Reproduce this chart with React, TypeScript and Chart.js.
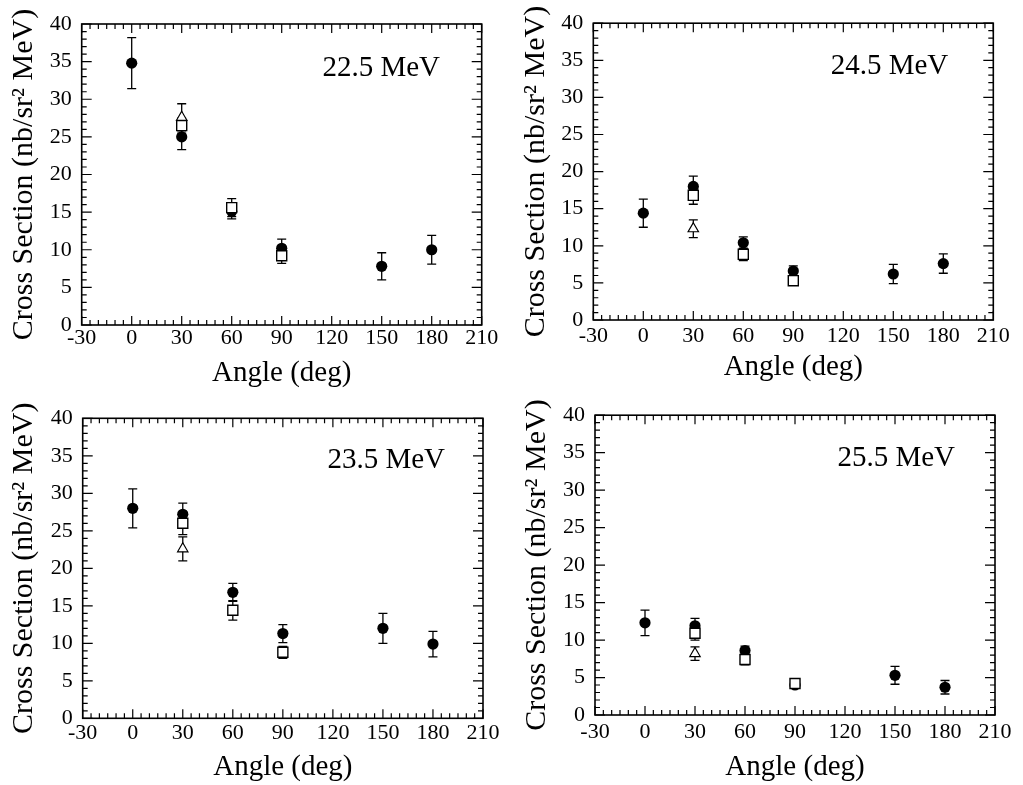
import React, { useEffect, useRef } from 'react';
import { Chart, registerables } from 'chart.js';

Chart.register(...registerables);

// ---------- data ----------
const panelLabels = ['22.5 MeV', '24.5 MeV', '23.5 MeV', '25.5 MeV'];
const xTickValues = [-30, 0, 30, 60, 90, 120, 150, 180, 210];
const yTickValues = [0, 5, 10, 15, 20, 25, 30, 35, 40];
const xAxisTitle = 'Angle (deg)';
const yAxisTitle = 'Cross Section (nb/sr² MeV)';

// 22.5 MeV
const circAngles225 = [0, 30, 60, 90, 150, 180];
const circVals225 = [34.8, 25.0, 15.1, 10.2, 7.8, 10.0];
const circErrs225 = [3.4, 1.7, 1.0, 1.2, 1.8, 1.9];
const sqAngles225 = [30, 60, 90];
const sqVals225 = [26.5, 15.6, 9.2];
const sqErrs225 = [1.0, 1.2, 1.0];
const triAngles225 = [30];
const triVals225 = [27.6];
const triErrs225 = [1.8];

// 24.5 MeV
const circAngles245 = [0, 30, 60, 90, 150, 180];
const circVals245 = [14.4, 18.0, 10.4, 6.6, 6.2, 7.6];
const circErrs245 = [1.9, 1.4, 0.8, 0.7, 1.3, 1.3];
const sqAngles245 = [30, 60, 90];
const sqVals245 = [16.8, 8.85, 5.3];
const sqErrs245 = [1.2, 0.85, 0.6];
const triAngles245 = [30];
const triVals245 = [12.3];
const triErrs245 = [1.2];

// 23.5 MeV
const circAngles235 = [0, 30, 60, 90, 150, 180];
const circVals235 = [28.0, 27.2, 16.8, 11.3, 12.0, 9.9];
const circErrs235 = [2.6, 1.5, 1.2, 1.2, 2.0, 1.7];
const sqAngles235 = [30, 60, 90];
const sqVals235 = [26.0, 14.4, 8.8];
const sqErrs235 = [1.5, 1.3, 0.8];
const triAngles235 = [30];
const triVals235 = [22.6];
const triErrs235 = [1.6];

// 25.5 MeV
const circAngles255 = [0, 30, 60, 90, 150, 180];
const circVals255 = [12.3, 11.9, 8.6, 4.0, 5.3, 3.7];
const circErrs255 = [1.7, 1.0, 0.6, 0.4, 1.2, 0.9];
const sqAngles255 = [30, 60, 90];
const sqVals255 = [10.9, 7.4, 4.2];
const sqErrs255 = [0.9, 0.7, 0.4];
const triAngles255 = [30];
const triVals255 = [8.2];
const triErrs255 = [0.9];

// ---------- layout (styling only) ----------
const FONT = '"Liberation Serif", "Times New Roman", "DejaVu Serif", serif';

type Layout = {
  left: number; top: number; w: number; h: number;
  aL: number; aR: number; aT: number; aB: number;
  xTitleMid: number; yTitleMid: number; xTickPad: number; yTickPad: number;
  lblRight: number; lblMid: number;
};

const layouts: Layout[] = [
  { left: 0, top: 0, w: 511, h: 392, aL: 81.7, aR: 481.7, aT: 24, aB: 325, xTitleMid: 373, yTitleMid: 24, xTickPad: 0, yTickPad: 10, lblRight: 41.7, lblMid: 44 },
  { left: 511, top: 0, w: 512, h: 392, aL: 82.3, aR: 482.3, aT: 20, aB: 320, xTitleMid: 367, yTitleMid: 25, xTickPad: 3, yTickPad: 10, lblRight: 45, lblMid: 43 },
  { left: 0, top: 392, w: 511, h: 393, aL: 82.7, aR: 483, aT: 26.3, aB: 326.3, xTitleMid: 376, yTitleMid: 24, xTickPad: 2, yTickPad: 10, lblRight: 38, lblMid: 42 },
  { left: 511, top: 392, w: 512, h: 393, aL: 84, aR: 484, aT: 23, aB: 323, xTitleMid: 375, yTitleMid: 26, xTickPad: 4, yTickPad: 10, lblRight: 40, lblMid: 43 },
];

const panelData = [
  { c: [circAngles225, circVals225, circErrs225], s: [sqAngles225, sqVals225, sqErrs225], t: [triAngles225, triVals225, triErrs225] },
  { c: [circAngles245, circVals245, circErrs245], s: [sqAngles245, sqVals245, sqErrs245], t: [triAngles245, triVals245, triErrs245] },
  { c: [circAngles235, circVals235, circErrs235], s: [sqAngles235, sqVals235, sqErrs235], t: [triAngles235, triVals235, triErrs235] },
  { c: [circAngles255, circVals255, circErrs255], s: [sqAngles255, sqVals255, sqErrs255], t: [triAngles255, triVals255, triErrs255] },
];

// ---------- plugins ----------
const errorBarPlugin = {
  id: 'errorBars',
  beforeDatasetsDraw(chart: any) {
    const { ctx } = chart;
    const x = chart.scales.x;
    const y = chart.scales.y;
    ctx.save();
    ctx.strokeStyle = '#000';
    ctx.lineWidth = 1.3;
    chart.data.datasets.forEach((ds: any) => {
      const errs: number[] = ds.errors;
      if (!errs) return;
      ds.data.forEach((p: any, i: number) => {
        const px = x.getPixelForValue(p.x);
        const top = y.getPixelForValue(p.y + errs[i]);
        const bot = y.getPixelForValue(p.y - errs[i]);
        ctx.beginPath();
        ctx.moveTo(px, top);
        ctx.lineTo(px, bot);
        ctx.moveTo(px - 4.5, top);
        ctx.lineTo(px + 4.5, top);
        ctx.moveTo(px - 4.5, bot);
        ctx.lineTo(px + 4.5, bot);
        ctx.stroke();
      });
    });
    ctx.restore();
  },
};

const framePlugin = {
  id: 'frameTicks',
  afterDraw(chart: any) {
    const { ctx, chartArea: a } = chart;
    const x = chart.scales.x;
    const y = chart.scales.y;
    ctx.save();
    ctx.strokeStyle = '#000';
    ctx.lineWidth = 1.6;
    ctx.strokeRect(a.left, a.top, a.right - a.left, a.bottom - a.top);
    ctx.lineWidth = 1.2;
    ctx.beginPath();
    for (let v = -30; v <= 210; v += 5) {
      const px = x.getPixelForValue(v);
      const len = v % 30 === 0 ? 9 : 5;
      ctx.moveTo(px, a.bottom);
      ctx.lineTo(px, a.bottom - len);
      ctx.moveTo(px, a.top);
      ctx.lineTo(px, a.top + len);
    }
    for (let v = 0; v <= 40; v += 1) {
      const py = y.getPixelForValue(v);
      const len = v % 5 === 0 ? 10 : 5;
      ctx.moveTo(a.left, py);
      ctx.lineTo(a.left + len, py);
      ctx.moveTo(a.right, py);
      ctx.lineTo(a.right - len, py);
    }
    ctx.stroke();
    ctx.restore();
  },
};

const energyLabelPlugin = {
  id: 'energyLabel',
  afterDraw(chart: any, _args: any, opts: any) {
    const { ctx, chartArea: a } = chart;
    ctx.save();
    ctx.fillStyle = '#000';
    ctx.font = `29px ${FONT}`;
    ctx.textAlign = 'right';
    ctx.textBaseline = 'middle';
    ctx.fillText(opts.text, a.right - opts.right, a.top + opts.mid);
    ctx.restore();
  },
};

function mk(arr: number[][]) {
  const [xs, ys] = arr;
  return xs.map((xv, i) => ({ x: xv, y: ys[i] }));
}

function Panel({ idx }: { idx: number }) {
  const ref = useRef<HTMLCanvasElement>(null);
  const L = layouts[idx];
  useEffect(() => {
    const d = panelData[idx];
    const chart = new Chart(ref.current as HTMLCanvasElement, {
      type: 'scatter',
      data: {
        datasets: [
          {
            label: 'open triangle',
            data: mk(d.t),
            errors: d.t[2],
            pointStyle: 'triangle',
            pointRadius: 6,
            backgroundColor: '#fff',
            borderColor: '#000',
            borderWidth: 1.2,
            order: 1,
          } as any,
          {
            label: 'open square',
            data: mk(d.s),
            errors: d.s[2],
            pointStyle: 'rect',
            pointRadius: 7.1,
            backgroundColor: '#fff',
            borderColor: '#000',
            borderWidth: 1.4,
            order: 2,
          } as any,
          {
            label: 'filled circle',
            data: mk(d.c),
            errors: d.c[2],
            pointStyle: 'circle',
            pointRadius: 5.6,
            backgroundColor: '#000',
            borderColor: '#000',
            borderWidth: 0,
            order: 3,
          } as any,
        ],
      },
      options: {
        animation: false,
        responsive: false,
        events: [],
        layout: { padding: { left: 0, top: L.aT, right: L.w - L.aR, bottom: 0 } },
        plugins: {
          legend: { display: false },
          tooltip: { enabled: false },
          energyLabel: { text: panelLabels[idx], right: L.lblRight, mid: L.lblMid },
        } as any,
        scales: {
          x: {
            type: 'linear',
            min: -30,
            max: 210,
            afterBuildTicks: (s: any) => {
              s.ticks = xTickValues.map((v) => ({ value: v }));
            },
            afterFit: (s: any) => {
              s.height = L.h - L.aB;
            },
            ticks: {
              color: '#000',
              font: { family: FONT, size: 22 },
              padding: L.xTickPad,
              maxRotation: 0,
              autoSkip: false,
            },
            grid: { display: false, drawTicks: false },
            border: { display: false },
            title: {
              display: true,
              text: xAxisTitle,
              color: '#000',
              font: { family: FONT, size: 29 },
              padding: { top: 0, bottom: Math.max(0, L.h - 17.4 - L.xTitleMid) },
            },
          },
          y: {
            type: 'linear',
            min: 0,
            max: 40,
            afterBuildTicks: (s: any) => {
              s.ticks = yTickValues.map((v) => ({ value: v }));
            },
            afterFit: (s: any) => {
              s.width = L.aL;
            },
            ticks: {
              color: '#000',
              font: { family: FONT, size: 22 },
              padding: L.yTickPad,
              autoSkip: false,
            },
            grid: { display: false, drawTicks: false },
            border: { display: false },
            title: {
              display: true,
              text: yAxisTitle,
              color: '#000',
              font: { family: FONT, size: 30 },
              padding: { top: Math.max(0, L.yTitleMid - 18), bottom: 0 },
            },
          },
        },
      } as any,
      plugins: [errorBarPlugin, framePlugin, energyLabelPlugin],
    });
    return () => chart.destroy();
  }, [idx]);
  return (
    <canvas
      ref={ref}
      width={L.w}
      height={L.h}
      style={{ position: 'absolute', left: L.left, top: L.top, width: L.w, height: L.h }}
    />
  );
}

export default function App() {
  return (
    <div style={{ position: 'fixed', left: 0, top: 0, width: 1023, height: 785, background: '#fff', overflow: 'hidden' }}>
      <Panel idx={0} />
      <Panel idx={1} />
      <Panel idx={2} />
      <Panel idx={3} />
    </div>
  );
}
